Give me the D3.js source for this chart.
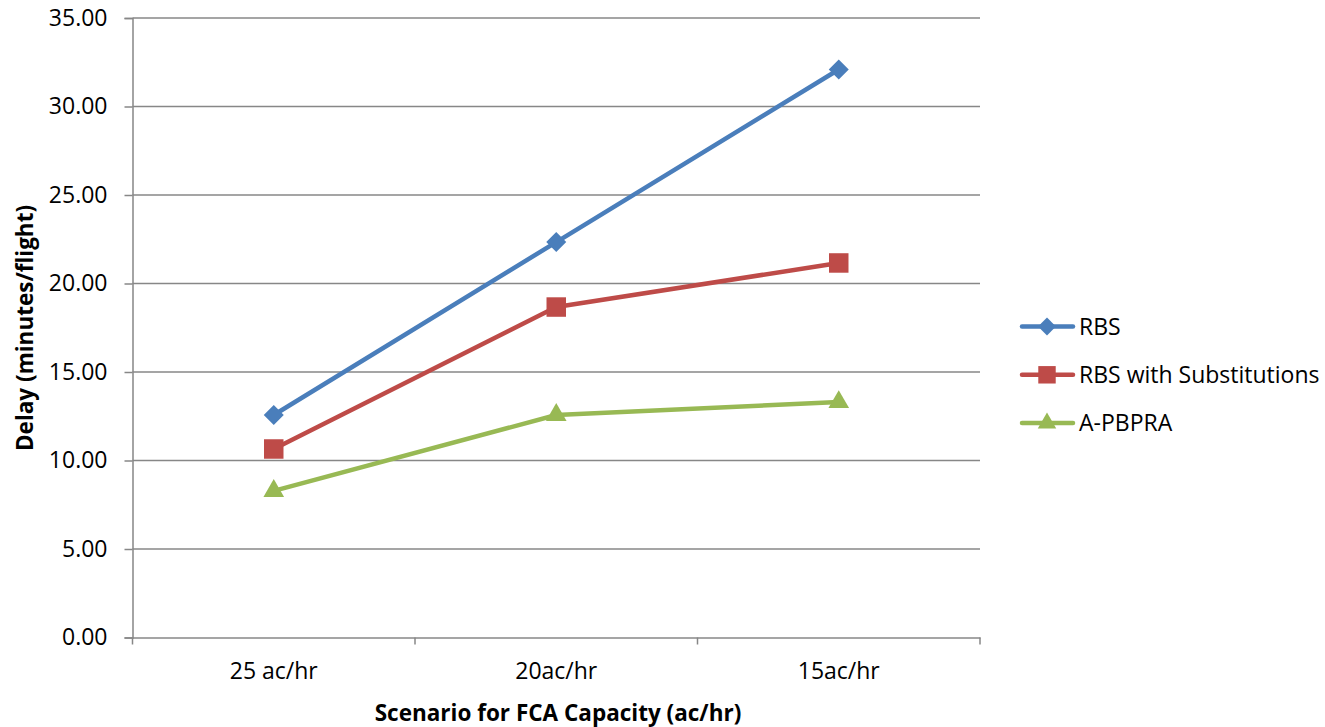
<!DOCTYPE html>
<html>
<head>
<meta charset="utf-8">
<script src="https://cdn.jsdelivr.net/npm/d3@7"></script>
<style>
  html, body { margin: 0; padding: 0; background: #fff; }
  svg text { font-family: "Open Sans", "Noto Sans", sans-serif; fill: #000; }
</style>
</head>
<body>
<svg id="chart" width="1325" height="727"></svg>
<script>
// Scenarios on the x axis
const categories = ["25 ac/hr", "20ac/hr", "15ac/hr"];

// Average delay (minutes/flight) per scenario
const rbs = [12.57, 22.34, 32.09];
const rbsSubstitutions = [10.65, 18.67, 21.16];
const aPbpra = [8.28, 12.57, 13.30];

const yTicks = [0, 5, 10, 15, 20, 25, 30, 35];

const series = [
  { name: "RBS", values: rbs, color: "#4A7EBB", symbol: d3.symbolSquare, size: 200, rotate: 45 },
  { name: "RBS with Substitutions", values: rbsSubstitutions, color: "#BE4B48", symbol: d3.symbolSquare, size: 380, rotate: 0 },
  { name: "A-PBPRA", values: aPbpra, color: "#98B954", symbol: d3.symbolTriangle, size: 185, rotate: 0 }
];

const svg = d3.select("#chart");
const plot = { left: 132.5, right: 980, top: 18, bottom: 637.5 };
const axisGrey = "#878787";

const x = d3.scaleBand().domain(categories).range([plot.left, plot.right]);
const y = d3.scaleLinear().domain([0, 35]).range([plot.bottom, plot.top]);

// Horizontal gridlines
svg.append("g")
  .selectAll("line")
  .data(yTicks.filter(t => t > 0))
  .join("line")
  .attr("x1", plot.left).attr("x2", plot.right)
  .attr("y1", d => y(d)).attr("y2", d => y(d))
  .attr("stroke", axisGrey).attr("stroke-width", 1.5);

// Y axis
const yAxis = svg.append("g")
  .attr("transform", `translate(${plot.left},0)`)
  .call(d3.axisLeft(y).tickValues(yTicks).tickFormat(d3.format(".2f")).tickSize(8).tickPadding(17));
yAxis.select(".domain").attr("stroke", axisGrey).attr("stroke-width", 1.5);
yAxis.selectAll(".tick line").attr("stroke", axisGrey).attr("stroke-width", 1.5);
yAxis.selectAll(".tick text").attr("font-size", 23).attr("font-family", "Open Sans, sans-serif");

// X axis with tick marks on category boundaries
const xAxis = svg.append("g")
  .attr("transform", `translate(0,${plot.bottom})`)
  .call(d3.axisBottom(x).tickSize(0).tickPadding(25));
xAxis.select(".domain").attr("stroke", axisGrey).attr("stroke-width", 1.5);
xAxis.selectAll(".tick text").attr("font-size", 23).attr("font-family", "Open Sans, sans-serif");
const bounds = categories.map(c => x(c)).concat([x(categories[categories.length - 1]) + x.bandwidth()]);
xAxis.append("g").selectAll("line").data(bounds).join("line")
  .attr("x1", d => d).attr("x2", d => d).attr("y1", 0).attr("y2", 7)
  .attr("stroke", axisGrey).attr("stroke-width", 1.5);

// Axis titles
svg.append("text")
  .attr("transform", `translate(33,328) rotate(-90)`)
  .attr("text-anchor", "middle")
  .attr("font-size", 22.5).attr("font-weight", "bold")
  .text("Delay (minutes/flight)");

svg.append("text")
  .attr("x", 558).attr("y", 721)
  .attr("text-anchor", "middle")
  .attr("font-size", 22.5).attr("font-weight", "bold")
  .text("Scenario for FCA Capacity (ac/hr)");

const cx = c => x(c) + x.bandwidth() / 2;
const line = d3.line().x((d, i) => cx(categories[i])).y(d => y(d));

// Series lines and markers
series.forEach(s => {
  svg.append("path")
    .attr("d", line(s.values))
    .attr("fill", "none").attr("stroke", s.color)
    .attr("stroke-width", 4.5).attr("stroke-linejoin", "round").attr("stroke-linecap", "round");
  svg.append("g").selectAll("path")
    .data(s.values)
    .join("path")
    .attr("d", d3.symbol().type(s.symbol).size(s.size))
    .attr("transform", (d, i) => `translate(${cx(categories[i])},${y(d)}) rotate(${s.rotate})`)
    .attr("fill", s.color);
});

// Legend
const legend = svg.append("g");
series.forEach((s, i) => {
  const ly = 326.5 + i * 48.3;
  legend.append("line")
    .attr("x1", 1022).attr("x2", 1073).attr("y1", ly).attr("y2", ly)
    .attr("stroke", s.color).attr("stroke-width", 4.5).attr("stroke-linecap", "round");
  legend.append("path")
    .attr("d", d3.symbol().type(s.symbol).size(s.size * 0.8))
    .attr("transform", `translate(1047,${ly}) rotate(${s.rotate})`)
    .attr("fill", s.color);
  legend.append("text")
    .attr("x", 1079).attr("y", ly + 8)
    .attr("font-size", 23)
    .text(s.name);
});
</script>
</body>
</html>
